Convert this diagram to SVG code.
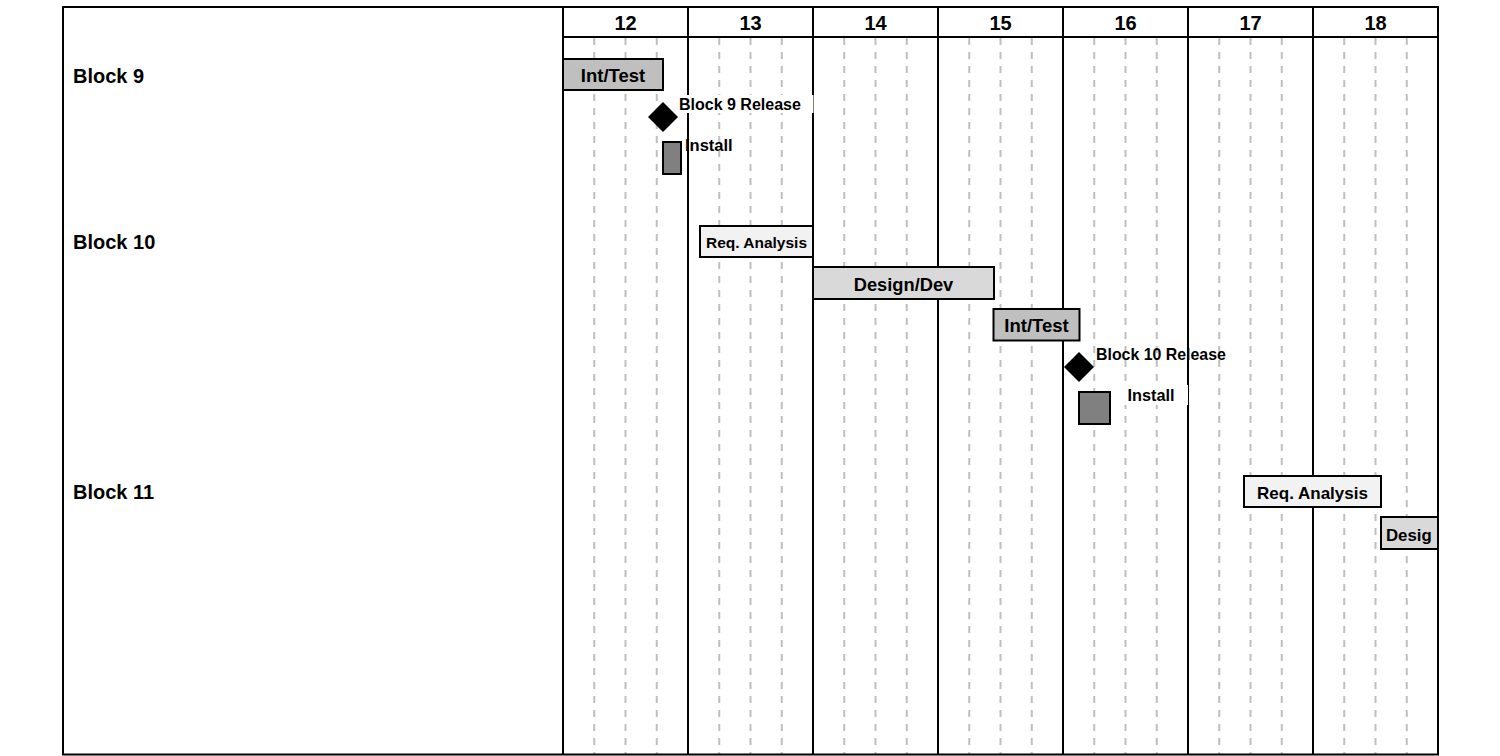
<svg xmlns="http://www.w3.org/2000/svg" width="1500" height="756" viewBox="0 0 1500 756">
<style>
text{font-family:"Liberation Sans",Arial,sans-serif;font-weight:bold;fill:#000}
.dash{stroke:#bfbfbf;stroke-width:2;stroke-dasharray:7 7;fill:none}
.solid{stroke:#000;stroke-width:2;fill:none}
.bar{stroke:#000;stroke-width:2}
.c{text-anchor:middle}
.hdr{font-size:20px;text-anchor:middle}
.row{font-size:20px}
</style>
<rect width="1500" height="756" fill="#fff"/>
<g id="grid">
<g class="dash">
<path d="M594.25 38V754M625.5 38V754M656.75 38V754M719.25 38V754M750.5 38V754M781.75 38V754M844.25 38V754M875.5 38V754M906.75 38V754M969.25 38V754M1000.5 38V754M1031.75 38V754M1094.25 38V754M1125.5 38V754M1156.75 38V754M1219.25 38V754M1250.5 38V754M1281.75 38V754M1344.25 38V754M1375.5 38V754M1406.75 38V754"/>
</g>
<g class="solid">
<rect x="63" y="7" width="1375" height="747.5"/>
<path d="M563 37H1438M563 7V755M688 7V755M813 7V755M938 7V755M1063 7V755M1188 7V755M1313 7V755"/>
</g>
<g class="hdr">
<text x="625.5" y="30">12</text>
<text x="750.5" y="30">13</text>
<text x="875.5" y="30">14</text>
<text x="1000.5" y="30">15</text>
<text x="1125.5" y="30">16</text>
<text x="1250.5" y="30">17</text>
<text x="1375.5" y="30">18</text>
</g>
</g>
<g id="rows">
<text class="row" x="73" y="83">Block 9</text>
<text class="row" x="73" y="249">Block 10</text>
<text class="row" x="73" y="499">Block 11</text>
</g>
<g id="connectors"></g>
<g id="b9-inttest">
<rect class="bar" x="563" y="59" width="100" height="31" fill="#bfbfbf"/>
<text class="c" x="613" y="82" font-size="18.5">Int/Test</text>
</g>
<g id="b9-release">
<rect x="676" y="95" width="137.5" height="18" fill="#fff"/>
<polygon points="663,102 678,117 663,132 648,117" fill="#000"/>
<text x="679" y="110" font-size="16">Block 9 Release</text>
</g>
<g id="b9-install">
<rect class="bar" x="663" y="142" width="18" height="32" fill="#808080"/>
<text x="685" y="151" font-size="16.5">Install</text>
</g>
<g id="b10-req">
<rect class="bar" x="700" y="226" width="113" height="31" fill="#f2f2f2"/>
<text class="c" x="756.5" y="247.5" font-size="15.5">Req. Analysis</text>
</g>
<g id="b10-design">
<rect class="bar" x="813" y="267" width="181" height="32" fill="#d9d9d9"/>
<text class="c" x="903.5" y="291" font-size="18.3">Design/Dev</text>
</g>
<g id="b10-inttest">
<rect class="bar" x="993.5" y="309" width="86" height="31.5" fill="#bfbfbf"/>
<text class="c" x="1036.5" y="332" font-size="18.5">Int/Test</text>
</g>
<g id="b10-release">
<polygon points="1079,352 1094,367 1079,382 1064,367" fill="#000"/>
<text x="1096" y="360" font-size="15.9">Block 10 Release</text>
</g>
<g id="b10-install">
<rect x="1123" y="385" width="65" height="20" fill="#fff"/>
<rect class="bar" x="1079" y="392" width="31" height="32" fill="#808080"/>
<text x="1127.5" y="401" font-size="16.3">Install</text>
</g>
<g id="b11-req">
<rect class="bar" x="1244" y="476" width="137" height="31" fill="#f2f2f2"/>
<text class="c" x="1312.5" y="498.5" font-size="17">Req. Analysis</text>
</g>
<g id="b11-design">
<rect class="bar" x="1381" y="517" width="57" height="32" fill="#d9d9d9"/>
<text x="1386" y="541" font-size="16.8">Desig</text>
</g>
</svg>
